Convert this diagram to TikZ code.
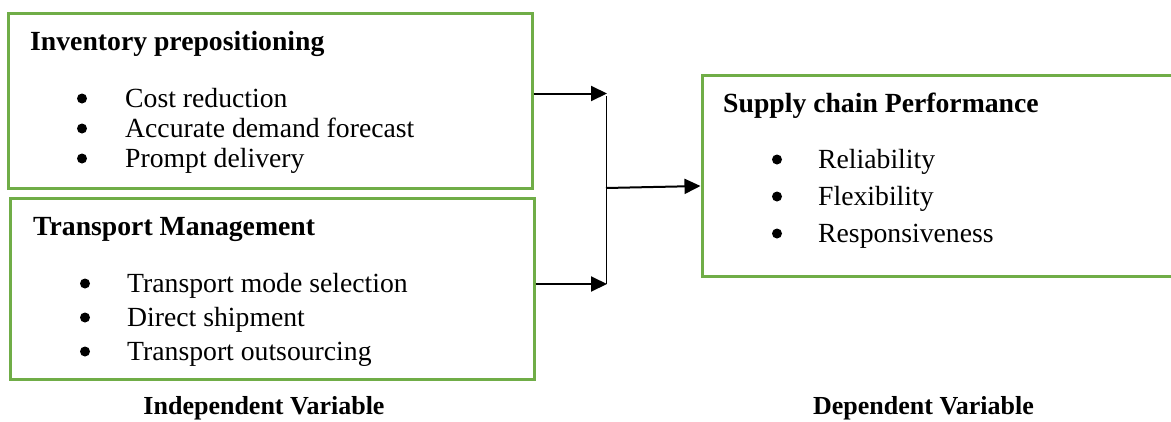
\documentclass[tikz,border=0pt]{standalone}
\usepackage{fontspec}
\setmainfont{Liberation Serif}
\usetikzlibrary{arrows.meta,positioning}

\definecolor{boxgreen}{RGB}{112,173,71}

\tikzset{
  varbox/.style={draw=boxgreen, line width=3pt, inner sep=0pt},
  boxtitle/.style={anchor=base west, inner sep=0pt, font=\fontsize{27.7}{33}\selectfont\bfseries},
  item/.style={anchor=base west, inner sep=0pt, font=\fontsize{27.7}{33}\selectfont},
  dot/.style={circle, fill=black, inner sep=0pt, minimum size=10pt},
  caption/.style={anchor=base, inner sep=0pt, font=\fontsize{26}{31}\selectfont\bfseries},
  arr/.style={-{Triangle[length=16pt,width=15pt]}, line width=2pt},
}

\begin{document}
\begin{tikzpicture}[x=1pt, y=-1pt]
        % Page size
        \useasboundingbox (0,0) rectangle (1171,421);

        % The three boxes
        \node[varbox, minimum width=524pt, minimum height=175pt] (inv) at (270,100.5) {};
        \node[varbox, minimum width=524pt, minimum height=181pt] (trans) at (272,288.5) {};
        \node[varbox, minimum width=483pt, minimum height=201pt] (perf) at (943.5,175.5) {};

        % Titles of the boxes
        \node[boxtitle] (inv-title) at (30,50) {Inventory prepositioning};
        \node[boxtitle] (trans-title) at (33,235) {Transport Management};
        \node[boxtitle] (perf-title) at (723,112) {Supply chain Performance};

        % Bullet lists
        \foreach \txt [count=\i] in {Cost reduction, Accurate demand forecast, Prompt delivery} {
          \node[dot] (inv-dot-\i) at (82,{98.5+30*(\i-1)}) {};
          \node[item] (inv-\i) at (125,{107+30*(\i-1)}) {\txt};
        }
        \foreach \txt [count=\i] in {Transport mode selection, Direct shipment, Transport outsourcing} {
          \node[dot] (trans-dot-\i) at (85,{283.5+34*(\i-1)}) {};
          \node[item] (trans-\i) at (127,{292+34*(\i-1)}) {\txt};
        }
        \foreach \txt [count=\i] in {Reliability, Flexibility, Responsiveness} {
          \node[dot] (perf-dot-\i) at (777,{159.5+37*(\i-1)}) {};
          \node[item] (perf-\i) at (818,{168+37*(\i-1)}) {\txt};
        }

        % Points where the arrows meet
        \coordinate (jtop) at (607,93.5);
        \coordinate (jbot) at (607,284);
        \coordinate (jmid) at (606,188);

        % Arrows
        \draw[arr] (inv.east |- jtop) -- (jtop);
        \draw[arr] (trans.east |- jbot) -- (jbot);
        \draw[line width=1pt] (606,96) -- (606,284);
        \draw[arr] (jmid) -- (perf.west |- 0,186);

        % Captions
        \node[caption] (indep) at (264,414) {Independent Variable};
        \node[caption] (dep) at (923.5,414) {Dependent Variable};

\end{tikzpicture}
\end{document}
